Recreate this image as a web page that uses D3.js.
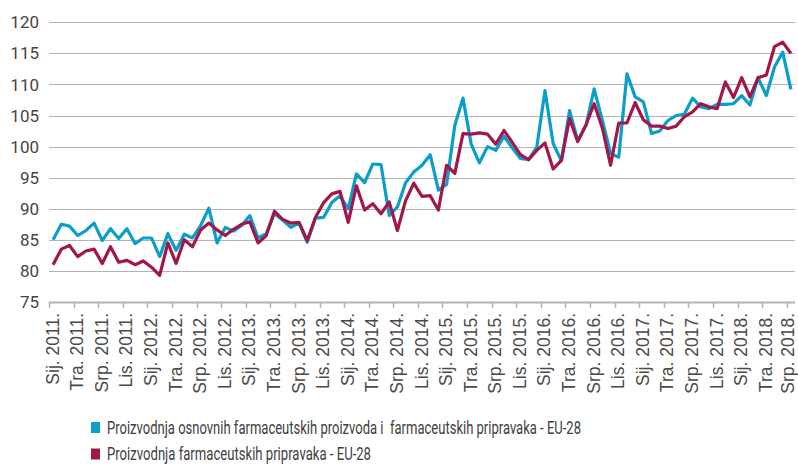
<!DOCTYPE html>
<html>
<head>
<meta charset="utf-8">
<script src="https://cdn.jsdelivr.net/npm/d3@7"></script>
<style>
  body { margin: 0; background: #fff; }
  svg { display: block; }
</style>
</head>
<body>
<svg width="798" height="464"></svg>
<script>
const monthNames = ["Sij.", "Velj.", "Ožu.", "Tra.", "Svi.", "Lip.", "Srp.", "Kol.", "Ruj.", "Lis.", "Stu.", "Pro."];
const years = [2011, 2012, 2013, 2014, 2015, 2016, 2017, 2018];
const nMonths = 91; // Sij. 2011. - Srp. 2018.

const seriesNames = [
  "Proizvodnja osnovnih farmaceutskih proizvoda i  farmaceutskih pripravaka - EU-28",
  "Proizvodnja farmaceutskih pripravaka - EU-28"
];

const osnovni = [
  85.0, 87.5, 87.2, 85.7, 86.5, 87.7, 84.9, 86.8, 85.2, 86.8, 84.4, 85.3,
  85.3, 82.3, 86.0, 83.3, 85.9, 85.3, 87.3, 90.1, 84.5, 87.0, 86.4, 87.3,
  88.9, 85.3, 86.0, 89.2, 88.2, 87.0, 87.7, 84.6, 88.5, 88.6, 91.0, 92.1,
  90.0, 95.6, 94.2, 97.2, 97.1, 88.9, 90.3, 94.2, 95.9, 97.0, 98.7, 93.0,
  93.9, 103.4, 107.8, 100.4, 97.4, 100.0, 99.4, 101.7, 99.8, 98.1, 97.9, 99.9,
  109.0, 100.5, 97.7, 105.8, 101.0, 103.4, 109.3, 104.2, 98.9, 98.3, 111.7, 108.0,
  107.2, 102.1, 102.5, 104.2, 105.0, 105.2, 107.8, 106.4, 106.1, 106.8, 106.8, 106.9,
  108.2, 106.7, 111.1, 108.2, 112.8, 115.2, 109.2
];

const pripravci = [
  81.0, 83.5, 84.1, 82.3, 83.2, 83.5, 81.2, 83.9, 81.4, 81.7, 81.0, 81.6,
  80.6, 79.3, 84.5, 81.2, 85.0, 83.9, 86.6, 87.7, 86.6, 85.7, 86.7, 87.5,
  87.9, 84.5, 85.7, 89.6, 88.3, 87.7, 87.8, 84.9, 88.6, 91.0, 92.4, 92.8,
  87.8, 93.7, 89.8, 90.8, 89.2, 91.1, 86.5, 91.3, 94.1, 92.0, 92.1, 89.8,
  97.0, 95.7, 102.1, 102.0, 102.2, 102.0, 100.4, 102.6, 100.7, 98.7, 97.9, 99.4,
  100.6, 96.4, 97.8, 104.5, 100.8, 103.5, 106.9, 103.0, 97.0, 103.8, 103.8, 107.1,
  104.3, 103.3, 103.3, 102.9, 103.3, 104.8, 105.6, 106.9, 106.4, 106.1, 110.4, 107.9,
  111.1, 108.0, 111.1, 111.5, 116.1, 116.8, 115.0
];

const yTicks = [75, 80, 85, 90, 95, 100, 105, 110, 115, 120];
const colors = ["#0b9ecb", "#a3164b"];

const months = [];
years.forEach(y => monthNames.forEach(m => months.push(`${m} ${y}.`)));
const categories = months.slice(0, nMonths);

const svg = d3.select("svg");

const x = d3.scaleBand().domain(categories).range([49, 795]).paddingInner(0).paddingOuter(0);
const y = d3.scaleLinear().domain([75, 120]).range([302, 22.3]);

// grid
svg.append("g")
  .selectAll("line")
  .data(yTicks.filter(d => d !== 75))
  .enter().append("line")
  .attr("x1", 49).attr("x2", 795)
  .attr("y1", d => Math.round(y(d)) + 0.5)
  .attr("y2", d => Math.round(y(d)) + 0.5)
  .attr("stroke", "#b4b4b4")
  .attr("stroke-width", 1.2);

// y labels
svg.append("g")
  .selectAll("text")
  .data(yTicks)
  .enter().append("text")
  .attr("x", 39)
  .attr("y", d => y(d))
  .attr("dy", "0.36em")
  .attr("text-anchor", "end")
  .attr("font-family", "Roboto, sans-serif")
  .attr("font-size", 17)
  .attr("fill", "#454545")
  .text(d => d);

// x axis line + ticks at band starts every 3 months
const tickCats = categories.filter((d, i) => i % 3 === 0);
svg.append("line")
  .attr("x1", 49).attr("x2", 795)
  .attr("y1", 302.5).attr("y2", 302.5)
  .attr("stroke", "#b4b4b4")
  .attr("stroke-width", 2);

svg.append("g")
  .selectAll("line")
  .data(tickCats)
  .enter().append("line")
  .attr("x1", d => Math.round(x(d)) + 0.5)
  .attr("x2", d => Math.round(x(d)) + 0.5)
  .attr("y1", 302).attr("y2", 308)
  .attr("stroke", "#b4b4b4")
  .attr("stroke-width", 1.5);

svg.append("g")
  .selectAll("text")
  .data(tickCats)
  .enter().append("text")
  .attr("transform", d => `translate(${Math.min(x(d) + x.bandwidth() / 2 + 5.5, 793.5)},313) rotate(-90)`)
  .attr("text-anchor", "end")
  .attr("font-family", "'Liberation Sans', Arial, sans-serif")
  .attr("font-size", 17.5)
  .attr("fill", "#4a4a4a")
  .text(d => d);

// lines
const line = d3.line()
  .x((d, i) => x(categories[i]) + x.bandwidth() / 2)
  .y(d => y(d));

[osnovni, pripravci].forEach((s, k) => {
  svg.append("path")
    .datum(s)
    .attr("fill", "none")
    .attr("stroke", colors[k])
    .attr("stroke-width", 3.2)
    .attr("stroke-linejoin", "round")
    .attr("d", line);
});

// legend
const legendWidths = [474, 264];
const legend = svg.append("g")
  .selectAll("g")
  .data(seriesNames)
  .enter().append("g")
  .attr("transform", (d, i) => `translate(91,${422 + i * 26.5})`);

legend.append("rect")
  .attr("width", 9).attr("height", 11)
  .attr("fill", (d, i) => colors[i]);

legend.append("text")
  .attr("x", 16)
  .attr("y", 11.5)
  .attr("font-family", "Roboto, sans-serif")
  .attr("font-size", 18.5)
  .attr("fill", "#3e3e3e")
  .attr("textLength", (d, i) => legendWidths[i])
  .attr("lengthAdjust", "spacingAndGlyphs")
  .style("white-space", "pre")
  .text(d => d);
</script>
</body>
</html>
